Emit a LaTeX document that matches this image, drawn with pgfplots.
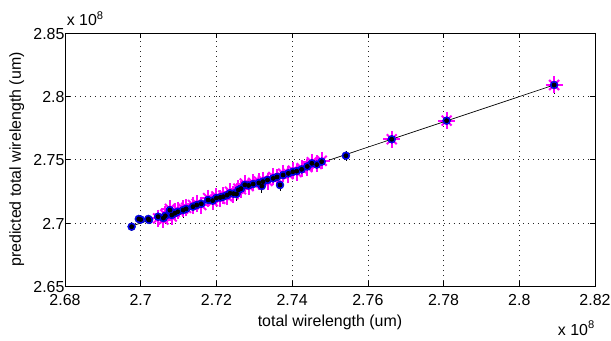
\documentclass[border=0pt]{standalone}
\usepackage{fontspec}
\setmainfont{Liberation Sans}
\usepackage{pgfplots}
\pgfplotsset{compat=1.18}
\usepackage{pgfplotstable}
\definecolor{mblue}{rgb}{0,0,1}
\definecolor{mnavy}{rgb}{0,0,0.75}
\definecolor{mmag}{rgb}{1,0,1}

\pgfplotstableread{
x y e
2.6976 2.6969 0.0010
2.6995 2.7030 0.0010
2.7000 2.7025 0.0010
2.7020 2.7030 0.0010
2.7022 2.7022 0.0010
2.7046 2.7048 0.0030
2.7060 2.7037 0.0030
2.7065 2.7055 0.0030
2.7077 2.7100 0.0035
2.7082 2.7061 0.0035
2.7090 2.7075 0.0030
2.7098 2.7087 0.0035
2.7112 2.7100 0.0035
2.7120 2.7110 0.0030
2.7138 2.7127 0.0030
2.7148 2.7140 0.0030
2.7160 2.7150 0.0030
2.7178 2.7180 0.0030
2.7190 2.7175 0.0030
2.7200 2.7196 0.0030
2.7210 2.7200 0.0030
2.7218 2.7206 0.0035
2.7228 2.7218 0.0030
2.7236 2.7233 0.0030
2.7245 2.7230 0.0030
2.7253 2.7227 0.0030
2.7258 2.7259 0.0035
2.7265 2.7270 0.0030
2.7275 2.7300 0.0035
2.7285 2.7295 0.0030
2.7297 2.7306 0.0030
2.7312 2.7315 0.0030
2.7320 2.7290 0.0030
2.7323 2.7325 0.0030
2.7335 2.7338 0.0030
2.7350 2.7351 0.0030
2.7360 2.7362 0.0030
2.7368 2.7298 0.0020
2.7376 2.7377 0.0030
2.7390 2.7390 0.0030
2.7402 2.7403 0.0030
2.7412 2.7408 0.0030
2.7425 2.7422 0.0030
2.7440 2.7445 0.0030
2.7452 2.7470 0.0030
2.7465 2.7460 0.0030
2.7478 2.7483 0.0030
2.7542 2.7530 0.0015
2.7663 2.7660 0.0040
2.7808 2.7807 0.0040
2.8092 2.8089 0.0045
}\bluedata

\pgfplotstableread{
x y
2.7046 2.7035
2.7060 2.7025
2.7065 2.7065
2.7077 2.7110
2.7082 2.7050
2.7090 2.7085
2.7098 2.7100
2.7112 2.7112
2.7120 2.7118
2.7138 2.7140
2.7148 2.7150
2.7160 2.7140
2.7178 2.7195
2.7190 2.7170
2.7200 2.7208
2.7210 2.7190
2.7218 2.7215
2.7228 2.7210
2.7236 2.7245
2.7245 2.7225
2.7258 2.7270
2.7265 2.7265
2.7275 2.7310
2.7285 2.7290
2.7297 2.7315
2.7312 2.7325
2.7323 2.7335
2.7335 2.7330
2.7350 2.7362
2.7360 2.7355
2.7376 2.7388
2.7390 2.7385
2.7402 2.7412
2.7412 2.7400
2.7425 2.7432
2.7440 2.7440
2.7452 2.7478
2.7465 2.7465
2.7478 2.7490
2.7663 2.7660
2.7808 2.7807
2.8092 2.8089
}\magdata

\pgfplotstableread{
x y
2.6976 2.6974
2.8092 2.8089
}\fitline

\begin{document}
\begin{tikzpicture}
\begin{axis}[
  scale only axis, width=530bp, height=253bp,
  xmin=2.68, xmax=2.82, ymin=2.65, ymax=2.85,
  xtick={2.68,2.70,2.72,2.74,2.76,2.78,2.80,2.82},
  ytick={2.65,2.70,2.75,2.80,2.85},
  xticklabels={2.68,2.7,2.72,2.74,2.76,2.78,2.8,2.82},
  yticklabels={2.65,2.7,2.75,2.8,2.85},
  scaled ticks=false,
  grid=major,
  major grid style={black!85, line width=0.5pt, dash pattern=on 0.8pt off 4.2pt},
  tick style={black, line width=0.5pt},
  major tick length=5bp,
  axis line style={black, line width=0.7pt},
  tick label style={font=\fontsize{16}{18}\selectfont},
  xticklabel style={yshift=-5bp},
  yticklabel style={xshift=3bp, yshift=-1bp},
  label style={font=\fontsize{16}{18}\selectfont},
  xlabel={total wirelength (um)},
  ylabel={predicted total wirelength (um)},
  xlabel style={at={(axis description cs:0.5,-0.142)}, anchor=center},
  ylabel style={at={(axis description cs:-0.091,0.5)}, anchor=center},
  clip=false,
]
\addplot[black, line width=0.7pt, mark=none] table[x=x,y=y] {\fitline};
\addplot[only marks, mmag, mark=+, mark size=8.5bp, line width=2pt] table[x=x,y=y] {\magdata};
\addplot[only marks, mmag, mark=x, mark size=7bp, line width=2pt] table[x=x,y=y] {\magdata};
\addplot[only marks, mark=*, mark size=4bp, mark options={draw=mnavy, fill=mblue, line width=0.4pt}] table[x=x,y=y] {\bluedata};
\addplot[only marks, mark=none, black, line width=0.8pt,
  error bars/.cd, y dir=both, y explicit,
  error bar style={black, line width=0.8pt},
  error mark options={black, mark size=3bp, line width=0.8pt}]
  table[x=x,y=y,y error=e] {\bluedata};
\node[anchor=base west, font=\fontsize{16}{18}\selectfont, inner sep=0pt] at ([yshift=7bp]rel axis cs:0.003,1) {x 10\textsuperscript{8}};
\node[anchor=base east, font=\fontsize{16}{18}\selectfont, inner sep=0pt] at ([yshift=-49bp]rel axis cs:1,0) {x 10\textsuperscript{8}};
\end{axis}
\pgfresetboundingbox
\path (-65bp,-55bp) rectangle (546bp,286bp);
\end{tikzpicture}
\end{document}
